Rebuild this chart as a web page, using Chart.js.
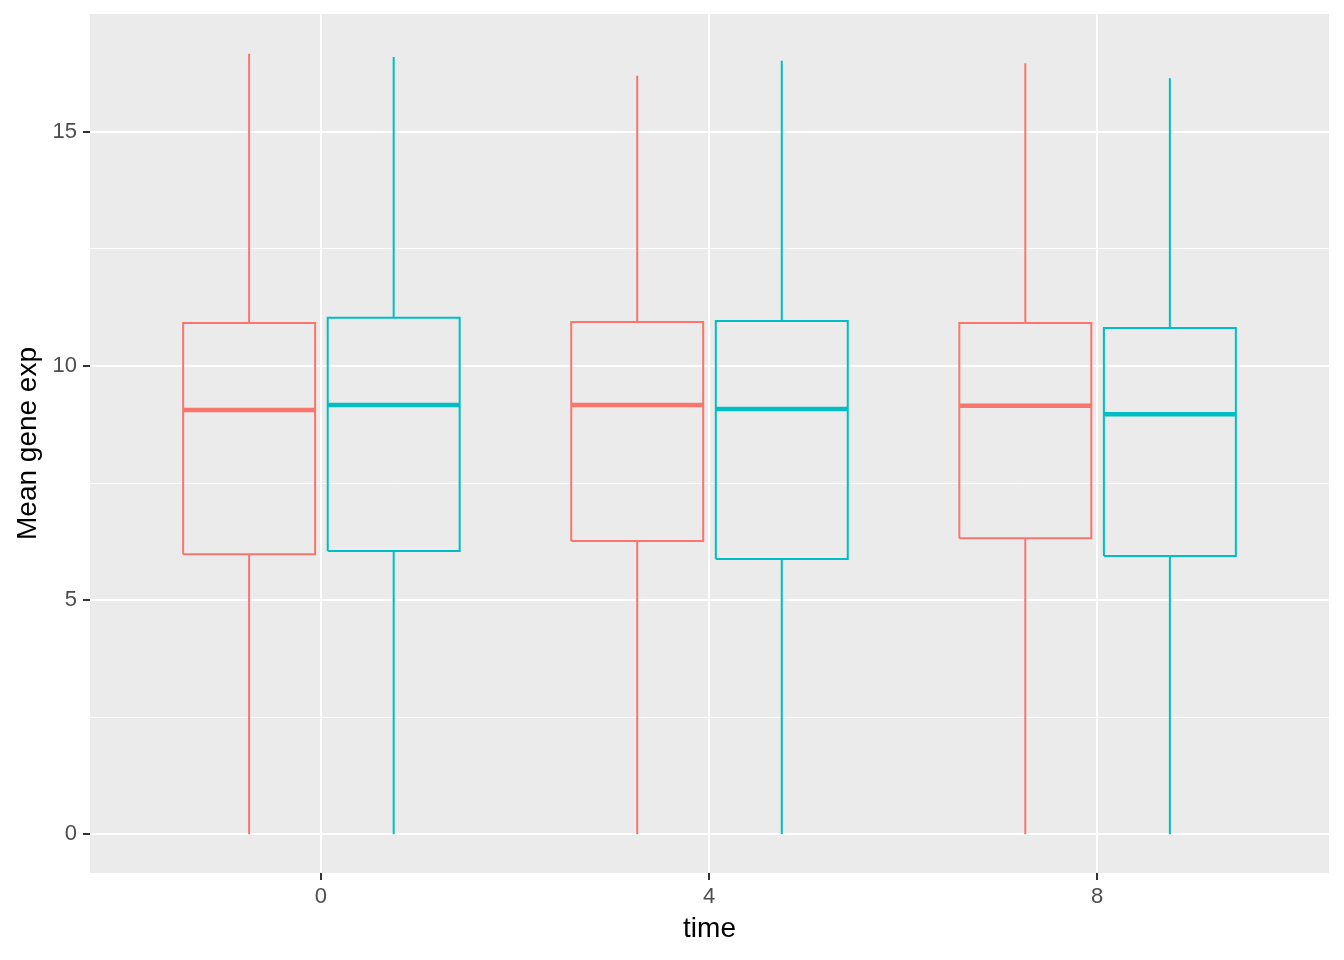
<!DOCTYPE html>
<html>
<head>
<meta charset="utf-8">
<script src="https://cdn.jsdelivr.net/npm/chart.js@4/dist/chart.umd.min.js"></script>
<style>
  html, body { margin: 0; padding: 0; background: #ffffff; }
  #wrap { width: 1344px; height: 960px; }
</style>
</head>
<body>
<div id="wrap"><canvas id="chart" width="1344" height="960"></canvas></div>
<script>
// data
const times = [0, 4, 8];
const yTicks = [0, 2.5, 5, 7.5, 10, 12.5, 15];

const redMin = [0, 0, 0];
const redQ1 = [5.98, 6.26, 6.32];
const redMed = [9.06, 9.17, 9.15];
const redQ3 = [10.92, 10.94, 10.92];
const redMax = [16.67, 16.20, 16.47];

const cyanMin = [0, 0, 0];
const cyanQ1 = [6.05, 5.88, 5.94];
const cyanMed = [9.17, 9.08, 8.97];
const cyanQ3 = [11.03, 10.96, 10.81];
const cyanMax = [16.60, 16.52, 16.15];

const RED = '#F8766D';
const CYAN = '#00BFC4';
const halfW = 0.68;
const FONT = '"Liberation Sans", Arial, sans-serif';

function boxSets(offset, color, mins, q1s, meds, q3s, maxs) {
	let sets = [];
	for (let i = 0; i < times.length; i++) {
		let x = times[i] + offset;
		let line = (pts, w) => ({
			data: pts,
			showLine: true,
			borderColor: color,
			borderWidth: w,
			pointRadius: 0,
			fill: false,
			tension: 0
		});
		// box outline
		sets.push(line([
			{x: x - halfW, y: q1s[i]}, {x: x + halfW, y: q1s[i]},
			{x: x + halfW, y: q3s[i]}, {x: x - halfW, y: q3s[i]},
			{x: x - halfW, y: q1s[i]}
		], 2));
		// whiskers
		sets.push(line([{x: x, y: q3s[i]}, {x: x, y: maxs[i]}], 2));
		sets.push(line([{x: x, y: q1s[i]}, {x: x, y: mins[i]}], 2));
		// median
		sets.push(line([{x: x - halfW, y: meds[i]}, {x: x + halfW, y: meds[i]}], 4.5));
	}
	return sets;
}

const datasets = [].concat(
	boxSets(-0.74, RED, redMin, redQ1, redMed, redQ3, redMax),
	boxSets(0.75, CYAN, cyanMin, cyanQ1, cyanMed, cyanQ3, cyanMax)
);

const panelBg = {
	id: 'panelBg',
	beforeDraw(chart) {
		const a = chart.chartArea;
		const c = chart.ctx;
		c.save();
		c.fillStyle = '#EBEBEB';
		c.fillRect(a.left, a.top, a.right - a.left, a.bottom - a.top);
		c.restore();
	}
};

const isMajor = v => Math.abs(v % 5) < 1e-9;

new Chart(document.getElementById('chart').getContext('2d'), {
	type: 'scatter',
	data: { datasets: datasets },
	options: {
		responsive: false,
		animation: false,
		layout: { padding: { top: 14, right: 15, left: 0, bottom: 0 } },
		plugins: {
			legend: { display: false },
			tooltip: { enabled: false }
		},
		scales: {
			x: {
				type: 'linear',
				min: -2.38,
				max: 10.39,
				afterBuildTicks: s => { s.ticks = times.map(v => ({value: v})); },
				afterFit: s => { s.height = 87; s.paddingLeft = 0; s.paddingRight = 0; },
				border: { display: false },
				grid: {
					color: '#ffffff',
					lineWidth: 2,
					tickColor: '#333333',
					tickWidth: 2,
					tickLength: 7
				},
				ticks: {
					color: '#4D4D4D',
					font: { family: FONT, size: 22 },
					padding: 4,
					maxRotation: 0
				},
				title: {
					display: true,
					text: 'time',
					color: '#000000',
					font: { family: FONT, size: 28 },
					padding: { top: 4, bottom: 14 }
				}
			},
			y: {
				type: 'linear',
				min: -0.83,
				max: 17.52,
				afterBuildTicks: s => { s.ticks = yTicks.map(v => ({value: v})); },
				afterFit: s => { s.width = 90; s.paddingTop = 0; s.paddingBottom = 0; },
				border: { display: false },
				grid: {
					color: '#ffffff',
					lineWidth: c => isMajor(c.tick.value) ? 2 : 1,
					tickColor: c => isMajor(c.tick.value) ? '#333333' : 'rgba(0,0,0,0)',
					tickWidth: 2,
					tickLength: 7
				},
				ticks: {
					color: '#4D4D4D',
					font: { family: FONT, size: 22 },
					padding: 6,
					callback: v => isMajor(v) ? String(v) : ''
				},
				title: {
					display: true,
					text: 'Mean gene exp',
					color: '#000000',
					font: { family: FONT, size: 28 },
					padding: { top: 11, bottom: 0 }
				}
			}
		}
	},
	plugins: [panelBg]
});
</script>
</body>
</html>
